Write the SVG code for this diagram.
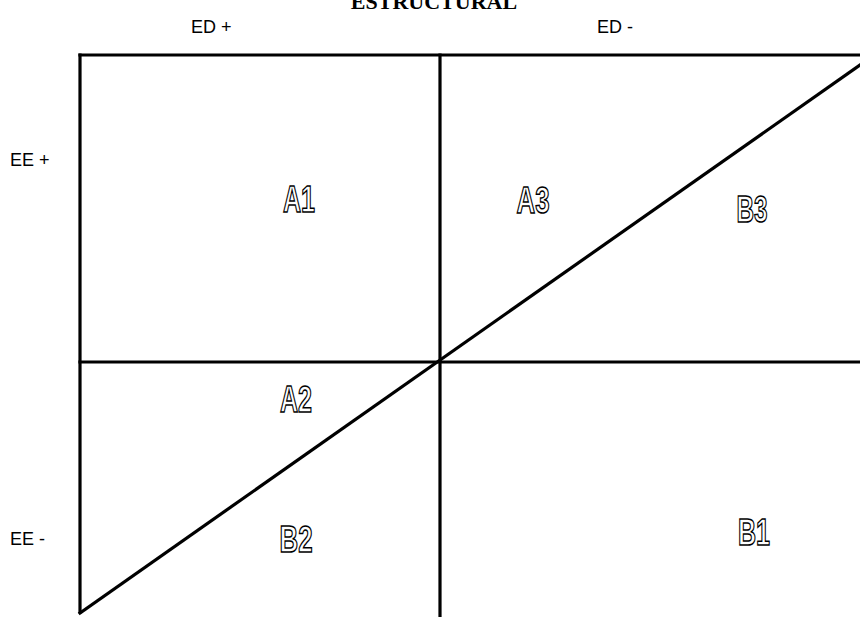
<svg xmlns="http://www.w3.org/2000/svg" width="860" height="617" viewBox="0 0 860 617">
<style>
.ln{stroke:#000;stroke-width:3.2;fill:none;stroke-linecap:square}
.lbl{font-family:"Liberation Sans",Arial,sans-serif;font-size:18px;fill:#000}
.ttl{font-family:"Liberation Serif","Times New Roman",serif;font-weight:bold;font-size:22px;fill:#000}
.q{font-family:"Liberation Sans Narrow","Arial Narrow","Liberation Sans",sans-serif;font-stretch:condensed;font-weight:bold;font-size:37px;fill:#fff;stroke:#000;stroke-width:1.5;text-anchor:middle}
</style>
<rect width="860" height="617" fill="#fff"/>
<text class="ttl" x="434" y="9" text-anchor="middle">ESTRUCTURAL</text>
<g id="axis-labels">
<text class="lbl" x="191" y="33">ED +</text>
<text class="lbl" x="597" y="33">ED -</text>
<text class="lbl" x="10" y="166">EE +</text>
<text class="lbl" x="10" y="545">EE -</text>
</g>
<g id="connectors">
<line class="ln" x1="80" y1="55" x2="860" y2="55"/>
<line class="ln" x1="80" y1="55" x2="80" y2="612"/>
<line class="ln" x1="440" y1="55" x2="440" y2="617"/>
<line class="ln" x1="80" y1="362" x2="860" y2="362"/>
<line class="ln" x1="80" y1="613" x2="860" y2="65"/>
</g>
<g id="A1"><text class="q" x="299" y="212" textLength="32" lengthAdjust="spacingAndGlyphs">A1</text></g>
<g id="A3"><text class="q" x="533" y="213" textLength="33" lengthAdjust="spacingAndGlyphs">A3</text></g>
<g id="B3"><text class="q" x="752" y="222" textLength="31" lengthAdjust="spacingAndGlyphs">B3</text></g>
<g id="A2"><text class="q" x="296" y="412" textLength="32" lengthAdjust="spacingAndGlyphs">A2</text></g>
<g id="B2"><text class="q" x="296" y="552" textLength="33" lengthAdjust="spacingAndGlyphs">B2</text></g>
<g id="B1"><text class="q" x="754" y="545" textLength="32" lengthAdjust="spacingAndGlyphs">B1</text></g>
</svg>
